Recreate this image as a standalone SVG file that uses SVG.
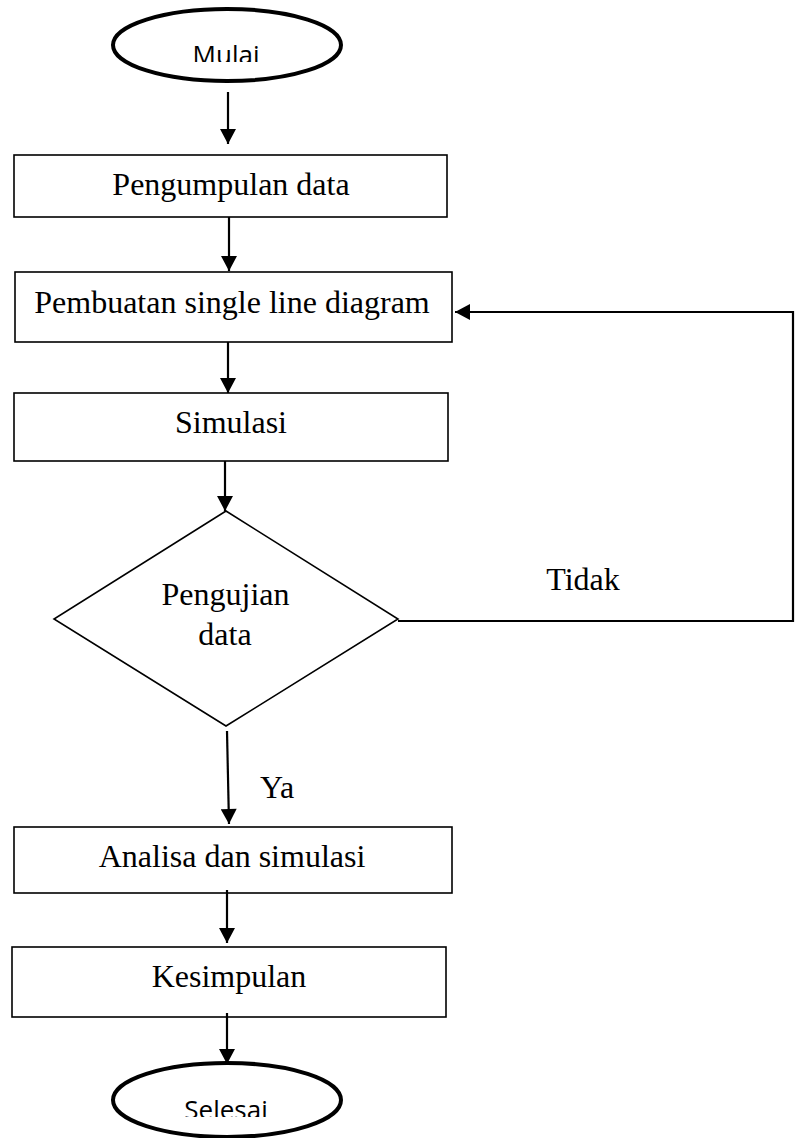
<svg xmlns="http://www.w3.org/2000/svg" width="795" height="1138" viewBox="0 0 795 1138">
<style>
.box{fill:#fff;stroke:#000;stroke-width:1.6}
.term{fill:#fff;stroke:#000;stroke-width:4}
.t{font-family:"Liberation Serif","Times New Roman",serif;font-size:32px;fill:#000;text-anchor:middle}
.s{font-family:"Open Sans","Noto Sans",sans-serif;font-size:26px;fill:#000;text-anchor:middle}
.c{fill:none;stroke:#000;stroke-width:2.2}
</style>
<defs>
<marker id="ah" markerUnits="userSpaceOnUse" markerWidth="16" markerHeight="16" viewBox="0 0 15 16" refX="15" refY="8" orient="auto">
<path d="M0,0 L15,8 L0,16 Z" fill="#000"/>
</marker>
<clipPath id="clipTop"><rect x="0" y="0" width="795" height="62"/></clipPath>
<clipPath id="clipBot"><rect x="0" y="0" width="795" height="1117"/></clipPath>
</defs>
<g id="mulai">
<ellipse class="term" cx="227" cy="45" rx="114" ry="36"/>
<text class="s" x="226" y="64" clip-path="url(#clipTop)">Mulai</text>
</g>
<g id="pengumpulan">
<rect class="box" x="14" y="155" width="433" height="62"/>
<text class="t" x="231" y="195">Pengumpulan data</text>
</g>
<g id="pembuatan">
<rect class="box" x="15" y="272" width="437" height="70"/>
<text class="t" x="232" y="313">Pembuatan single line diagram</text>
</g>
<g id="simulasi">
<rect class="box" x="14" y="393" width="434" height="68"/>
<text class="t" x="231" y="433">Simulasi</text>
</g>
<g id="pengujian">
<polygon class="box" points="226,511 398,619 226,726 54,619"/>
<text class="t" x="225.5" y="605">Pengujian</text>
<text class="t" x="225" y="645">data</text>
</g>
<g id="analisa">
<rect class="box" x="14" y="827" width="438" height="66"/>
<text class="t" x="232" y="867">Analisa dan simulasi</text>
</g>
<g id="kesimpulan">
<rect class="box" x="12" y="947" width="434" height="70"/>
<text class="t" x="229" y="987">Kesimpulan</text>
</g>
<g id="selesai">
<ellipse class="term" cx="227" cy="1100" rx="114" ry="37"/>
<text class="s" x="226" y="1119" clip-path="url(#clipBot)">Selesai</text>
</g>
<g id="connectors">
<line class="c" x1="228" y1="92" x2="228" y2="144" marker-end="url(#ah)"/>
<line class="c" x1="229" y1="217" x2="229" y2="271" marker-end="url(#ah)"/>
<line class="c" x1="228" y1="342" x2="228" y2="393" marker-end="url(#ah)"/>
<line class="c" x1="225" y1="461" x2="225" y2="511" marker-end="url(#ah)"/>
<line class="c" x1="227" y1="731" x2="229" y2="824" marker-end="url(#ah)"/>
<line class="c" x1="227" y1="890" x2="227" y2="943" marker-end="url(#ah)"/>
<line class="c" x1="227" y1="1013" x2="227" y2="1064" marker-end="url(#ah)"/>
<polyline class="c" points="398,621 793,621 793,312 455,312" marker-end="url(#ah)"/>
<text class="t" x="583" y="590">Tidak</text>
<text class="t" x="260" y="798" style="text-anchor:start">Ya</text>
</g>
</svg>
